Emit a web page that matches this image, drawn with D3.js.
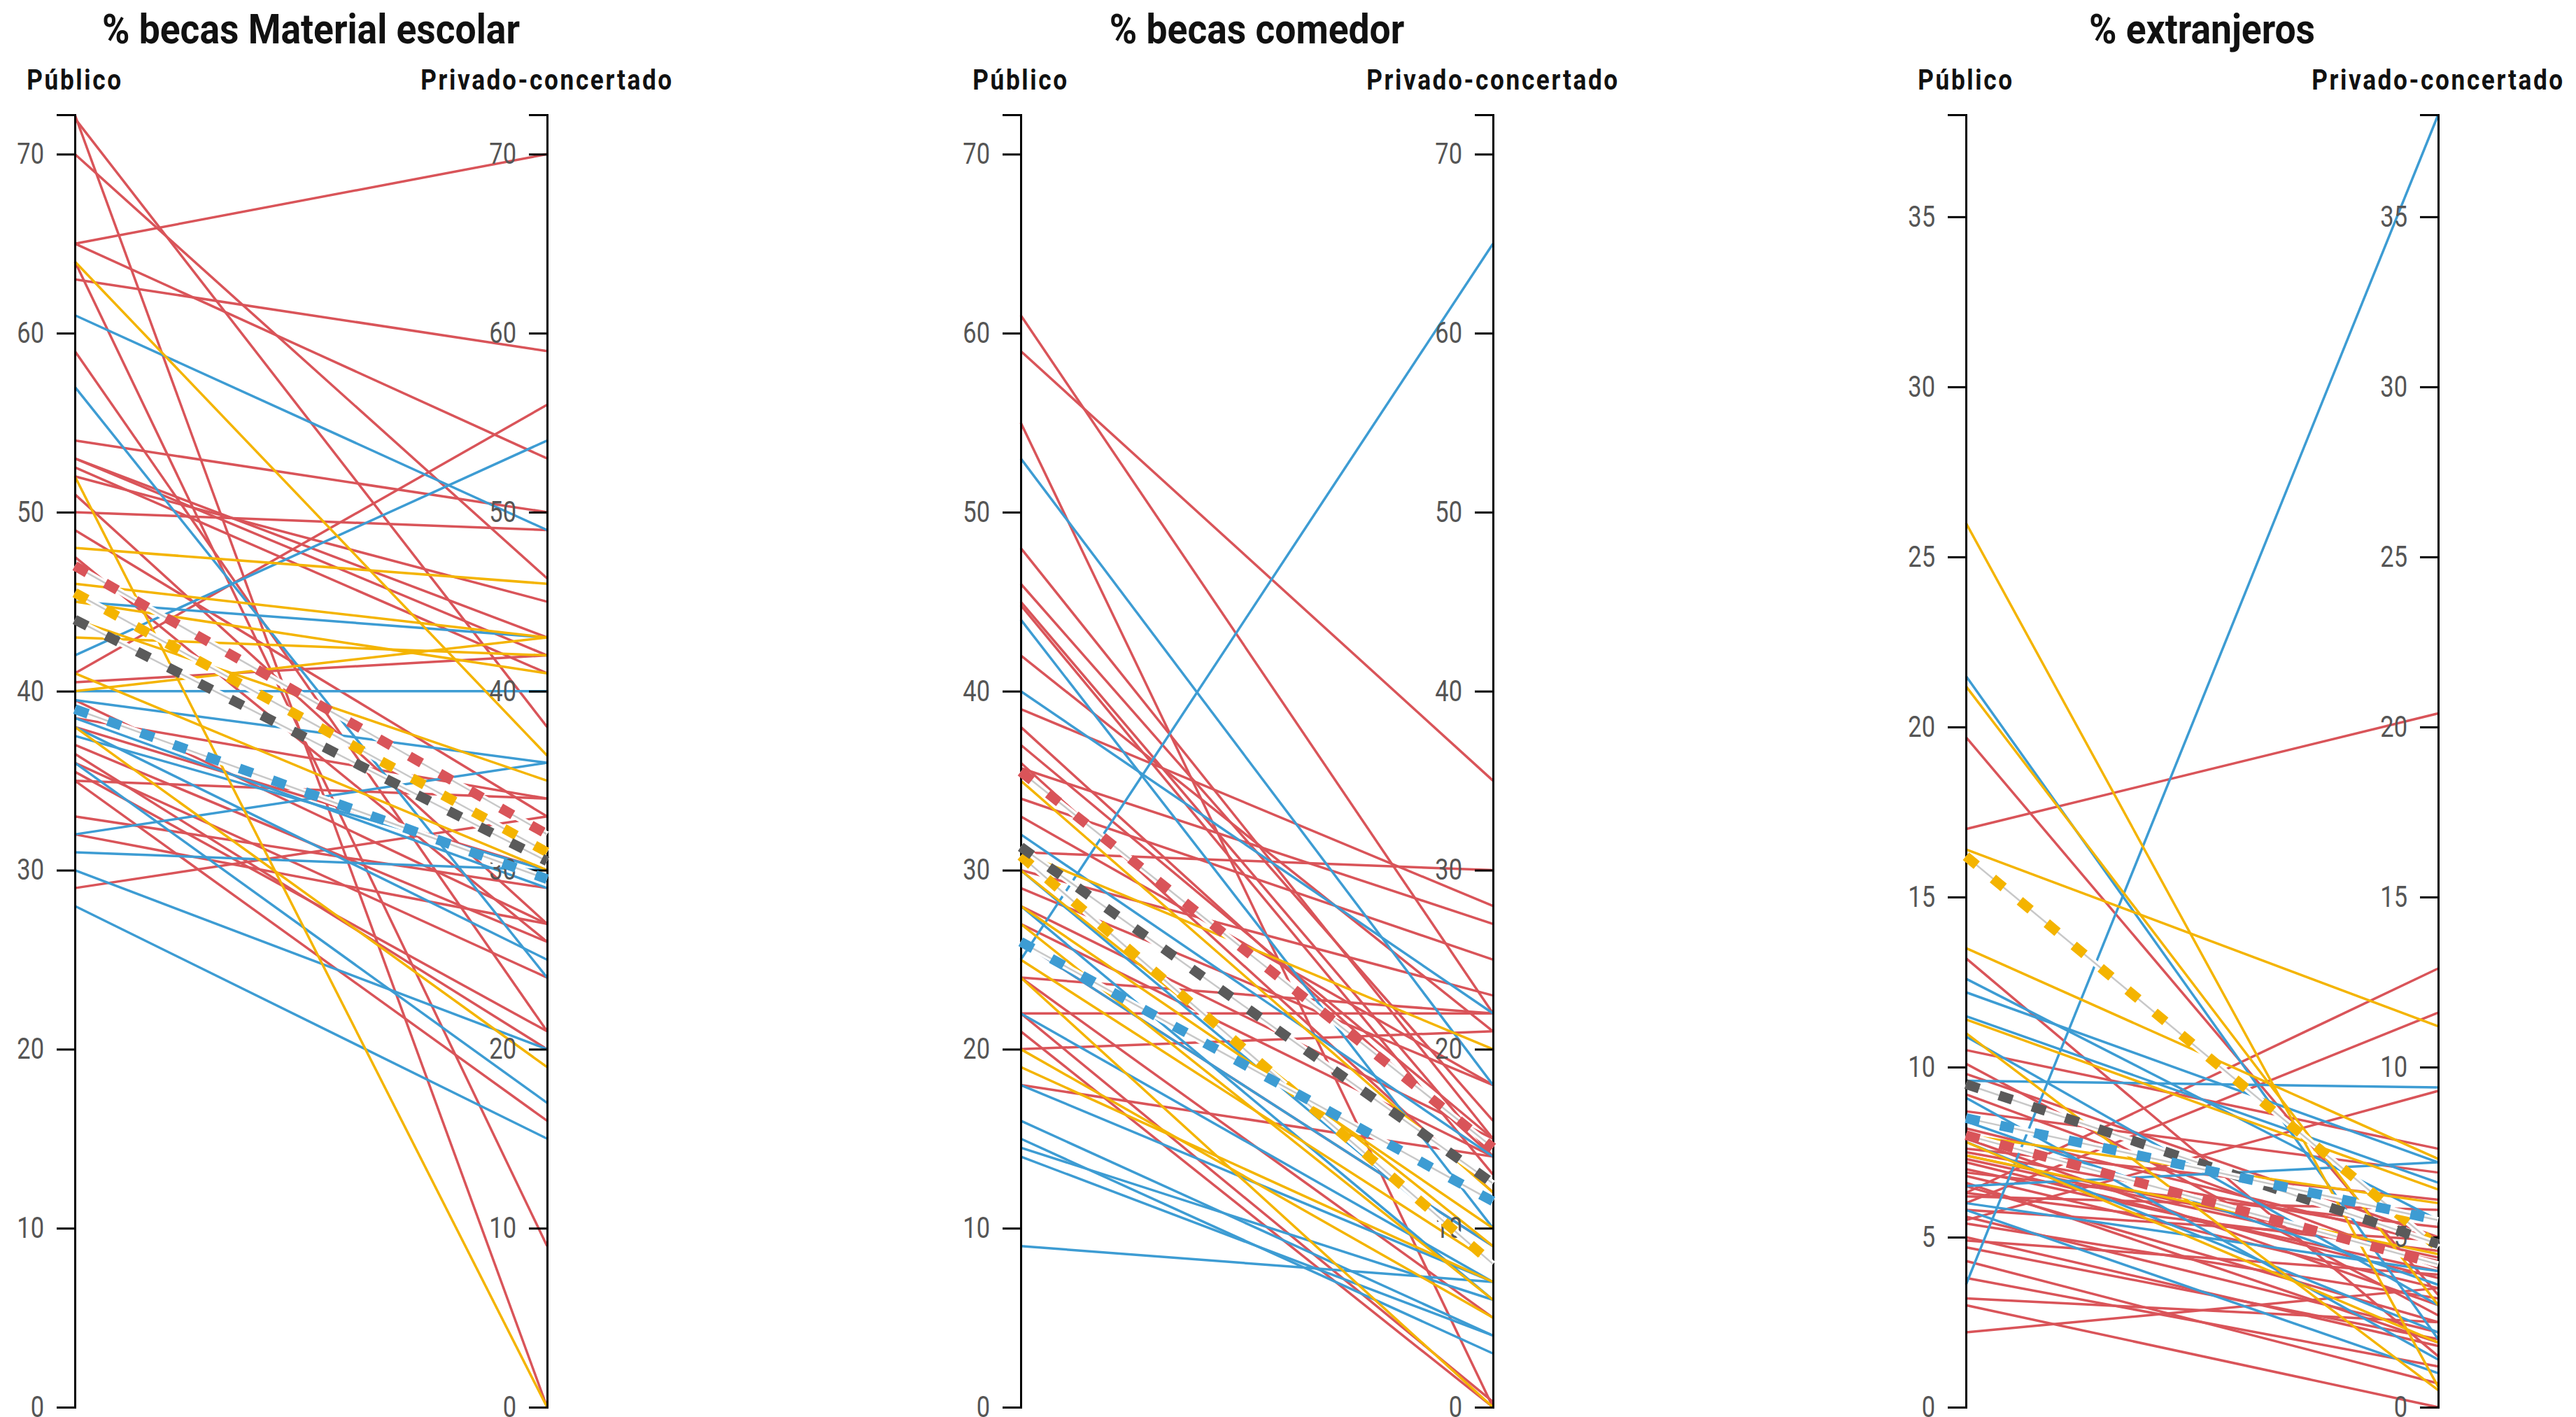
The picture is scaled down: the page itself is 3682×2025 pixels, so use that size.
<!DOCTYPE html>
<html>
<head>
<meta charset="utf-8">
<script src="https://cdnjs.cloudflare.com/ajax/libs/d3/7.8.5/d3.min.js"></script>
<style>
  body { margin: 0; background: #fff; }
  text { font-family: Roboto, "Noto Sans", sans-serif; }
</style>
</head>
<body>
<script>
// ejes de cada panel
const ejes = ["Público", "Privado-concertado"];
const titulos = ["% becas Material escolar", "% becas comedor", "% extranjeros"];
const ticksBecas = [0, 10, 20, 30, 40, 50, 60, 70];
const ticksExtranjeros = [0, 5, 10, 15, 20, 25, 30, 35];

// [público, privado-concertado] por distrito
const materialRojo = [[72.2, 0], [72, 38], [70, 46.3], [65, 70], [65, 53], [64, 9], [63, 59], [59, 21],
  [54, 50], [53, 43], [53, 42], [52.5, 41], [52, 45], [51, 27], [50, 49], [49, 33], [47.5, 26],
  [41, 56], [40.5, 42], [39.5, 27], [38.5, 34], [38, 30], [37, 26], [36.5, 20], [36, 24],
  [35.5, 21], [35, 16], [35, 34], [33, 29], [32, 27], [29, 33]];
const materialAzul = [[61, 49], [57, 24], [45, 43], [42, 54], [40, 40], [39.5, 36], [38.5, 29],
  [38, 25], [37.5, 30], [36, 17], [32, 36], [31, 30], [30, 20], [28, 15]];
const materialAmarillo = [[64, 36.4], [52, 0], [48, 46], [46, 43], [45, 41], [44, 35], [43, 42],
  [38, 19], [40, 43], [41, 30]];
const materialMedias = [["rojo", 47, 32], ["amarillo", 45.5, 31], ["gris", 44, 30.5], ["azul", 39, 29.5]];

const comedorRojo = [[61, 22], [59, 35], [55, 0], [48, 15], [46, 16], [45, 14], [44.8, 13], [42, 21],
  [39, 28], [38, 14], [37, 15], [36, 12], [35.7, 27], [34, 25], [33, 18], [31, 30], [30, 23],
  [29, 18], [28, 15], [27, 14], [26, 9], [24, 5], [24, 22], [22, 22], [21, 0], [20, 21], [18, 14], [22, 0.3]];
const comedorAzul = [[53, 18], [44, 10], [40, 22], [32, 14], [30, 8], [28, 6], [26, 9], [25, 65],
  [22, 7], [18, 7], [16, 4], [15, 3], [14.5, 6], [14, 4], [9, 7]];
const comedorAmarillo = [[35, 12], [31, 20], [30, 9], [28, 10], [27, 6], [25, 8], [24, 0], [20, 5], [19, 7]];
const comedorMedias = [["rojo", 35.5, 14.5], ["amarillo", 30.8, 8], ["gris", 31.3, 12.5], ["azul", 26, 11.5]];

const extranjerosRojo = [[19.7, 3.3], [17, 20.4], [13.2, 1.5], [10.5, 7.6], [10.1, 2.7], [9.8, 5.0],
  [9.2, 4.1], [8.7, 6.9], [8.2, 4.8], [7.9, 3.0], [7.6, 6.1], [7.5, 5.0], [7.4, 4.4], [7.3, 4.3],
  [7.2, 3.8], [7.0, 4.0], [6.9, 5.3], [6.8, 3.5], [6.6, 1.9], [6.5, 2.5], [6.3, 12.9], [6.3, 4.6],
  [6.2, 5.8], [6.0, 11.6], [5.8, 4.9], [5.6, 2.2], [5.5, 9.3], [5.4, 3.2], [5.0, 1.8], [4.9, 3.9],
  [4.7, 2.0], [4.3, 0.7], [3.8, 1.2], [3.2, 2.5], [3.0, 0], [2.2, 3.5]];
const extranjerosAzul = [[21.5, 2], [12.6, 5.5], [12.2, 7.2], [11.5, 6.6], [10.9, 3.0], [9.6, 9.4],
  [9.1, 1.4], [8.4, 3.6], [7.8, 2.2], [6.5, 7.2], [6.0, 4.0], [5.8, 1.0], [3.6, 38]];
const extranjerosAmarillo = [[26, 0.6], [21.2, 3], [16.4, 11.2], [13.5, 7.3], [11.4, 6.4], [11.0, 0.5],
  [8.0, 6.0], [7.8, 1.9], [7.4, 4.5]];
const extranjerosMedias = [["amarillo", 16.2, 4.7], ["rojo", 8.0, 4.2], ["gris", 9.5, 4.8], ["azul", 8.5, 5.5]];

const colores = { rojo: "#d95459", azul: "#3d9cd3", amarillo: "#f4b400", gris: "#5a5a5a" };

const svg = d3.select("body").append("svg")
    .attr("width", 3682)
    .attr("height", 2025);

const ancho = 675, arriba = 164, abajo = 2011;

function drawPanel(i, left, maxY, ticks, rojo, azul, amarillo, medias) {
    const g = svg.append("g");
    const x = d3.scalePoint().domain(ejes).range([left, left + ancho]);
    const y = d3.scaleLinear().domain([0, maxY]).range([abajo, arriba]);

    // titulo y nombres de eje
    g.append("text")
        .attr("transform", `translate(${left + ancho / 2},62) scale(0.89,1)`)
        .attr("text-anchor", "middle")
        .style("font-size", "60px")
        .style("font-weight", "bold")
        .attr("fill", "#111")
        .text(titulos[i]);
    ejes.forEach(e => {
        g.append("text")
            .attr("transform", `translate(${x(e)},128) scale(0.88,1)`)
            .attr("text-anchor", "middle")
            .style("font-size", "40px")
            .style("font-weight", "bold")
            .style("letter-spacing", "3px")
            .attr("fill", "#111")
            .text(e);
    });

    // lineas de cada distrito
    function drawLines(data, color) {
        g.append("g").selectAll("line").data(data).join("line")
            .attr("x1", x(ejes[0])).attr("y1", d => y(d[0]))
            .attr("x2", x(ejes[1])).attr("y2", d => y(d[1]))
            .attr("stroke", colores[color])
            .attr("stroke-width", 3.5);
    }
    drawLines(rojo, "rojo");
    drawLines(azul, "azul");
    drawLines(amarillo, "amarillo");

    // ejes
    ejes.forEach(e => {
        const ax = g.append("g")
            .attr("transform", `translate(${x(e)},0)`)
            .call(d3.axisLeft(y).tickValues(ticks).tickSize(26).tickSizeOuter(26).tickPadding(18));
        ax.select(".domain").attr("stroke", "#000").attr("stroke-width", 3);
        ax.selectAll(".tick line").attr("stroke", "#000").attr("stroke-width", 3);
        ax.selectAll(".tick text")
            .attr("x", -44 / 0.82)
            .attr("transform", "scale(0.82,1)")
            .attr("fill", "#555")
            .style("font-size", "42px")
            .style("font-family", "Roboto, sans-serif");
    });

    // medias
    medias.forEach(m => {
        const l = g.append("g");
        const seg = sel => sel
            .attr("x1", x(ejes[0])).attr("y1", y(m[1]))
            .attr("x2", x(ejes[1])).attr("y2", y(m[2]));
        l.append("line").call(seg).attr("stroke", "#fff").attr("stroke-width", 9);
        l.append("line").call(seg).attr("stroke", "#c8c8c8").attr("stroke-width", 2.5);
        l.append("line").call(seg)
            .attr("stroke", colores[m[0]])
            .attr("stroke-width", 14)
            .attr("stroke-dasharray", "20,30");
    });
}

drawPanel(0, 107, 72.2, ticksBecas, materialRojo, materialAzul, materialAmarillo, materialMedias);
drawPanel(1, 1459, 72.2, ticksBecas, comedorRojo, comedorAzul, comedorAmarillo, comedorMedias);
drawPanel(2, 2810, 38, ticksExtranjeros, extranjerosRojo, extranjerosAzul, extranjerosAmarillo, extranjerosMedias);
</script>
</body>
</html>
